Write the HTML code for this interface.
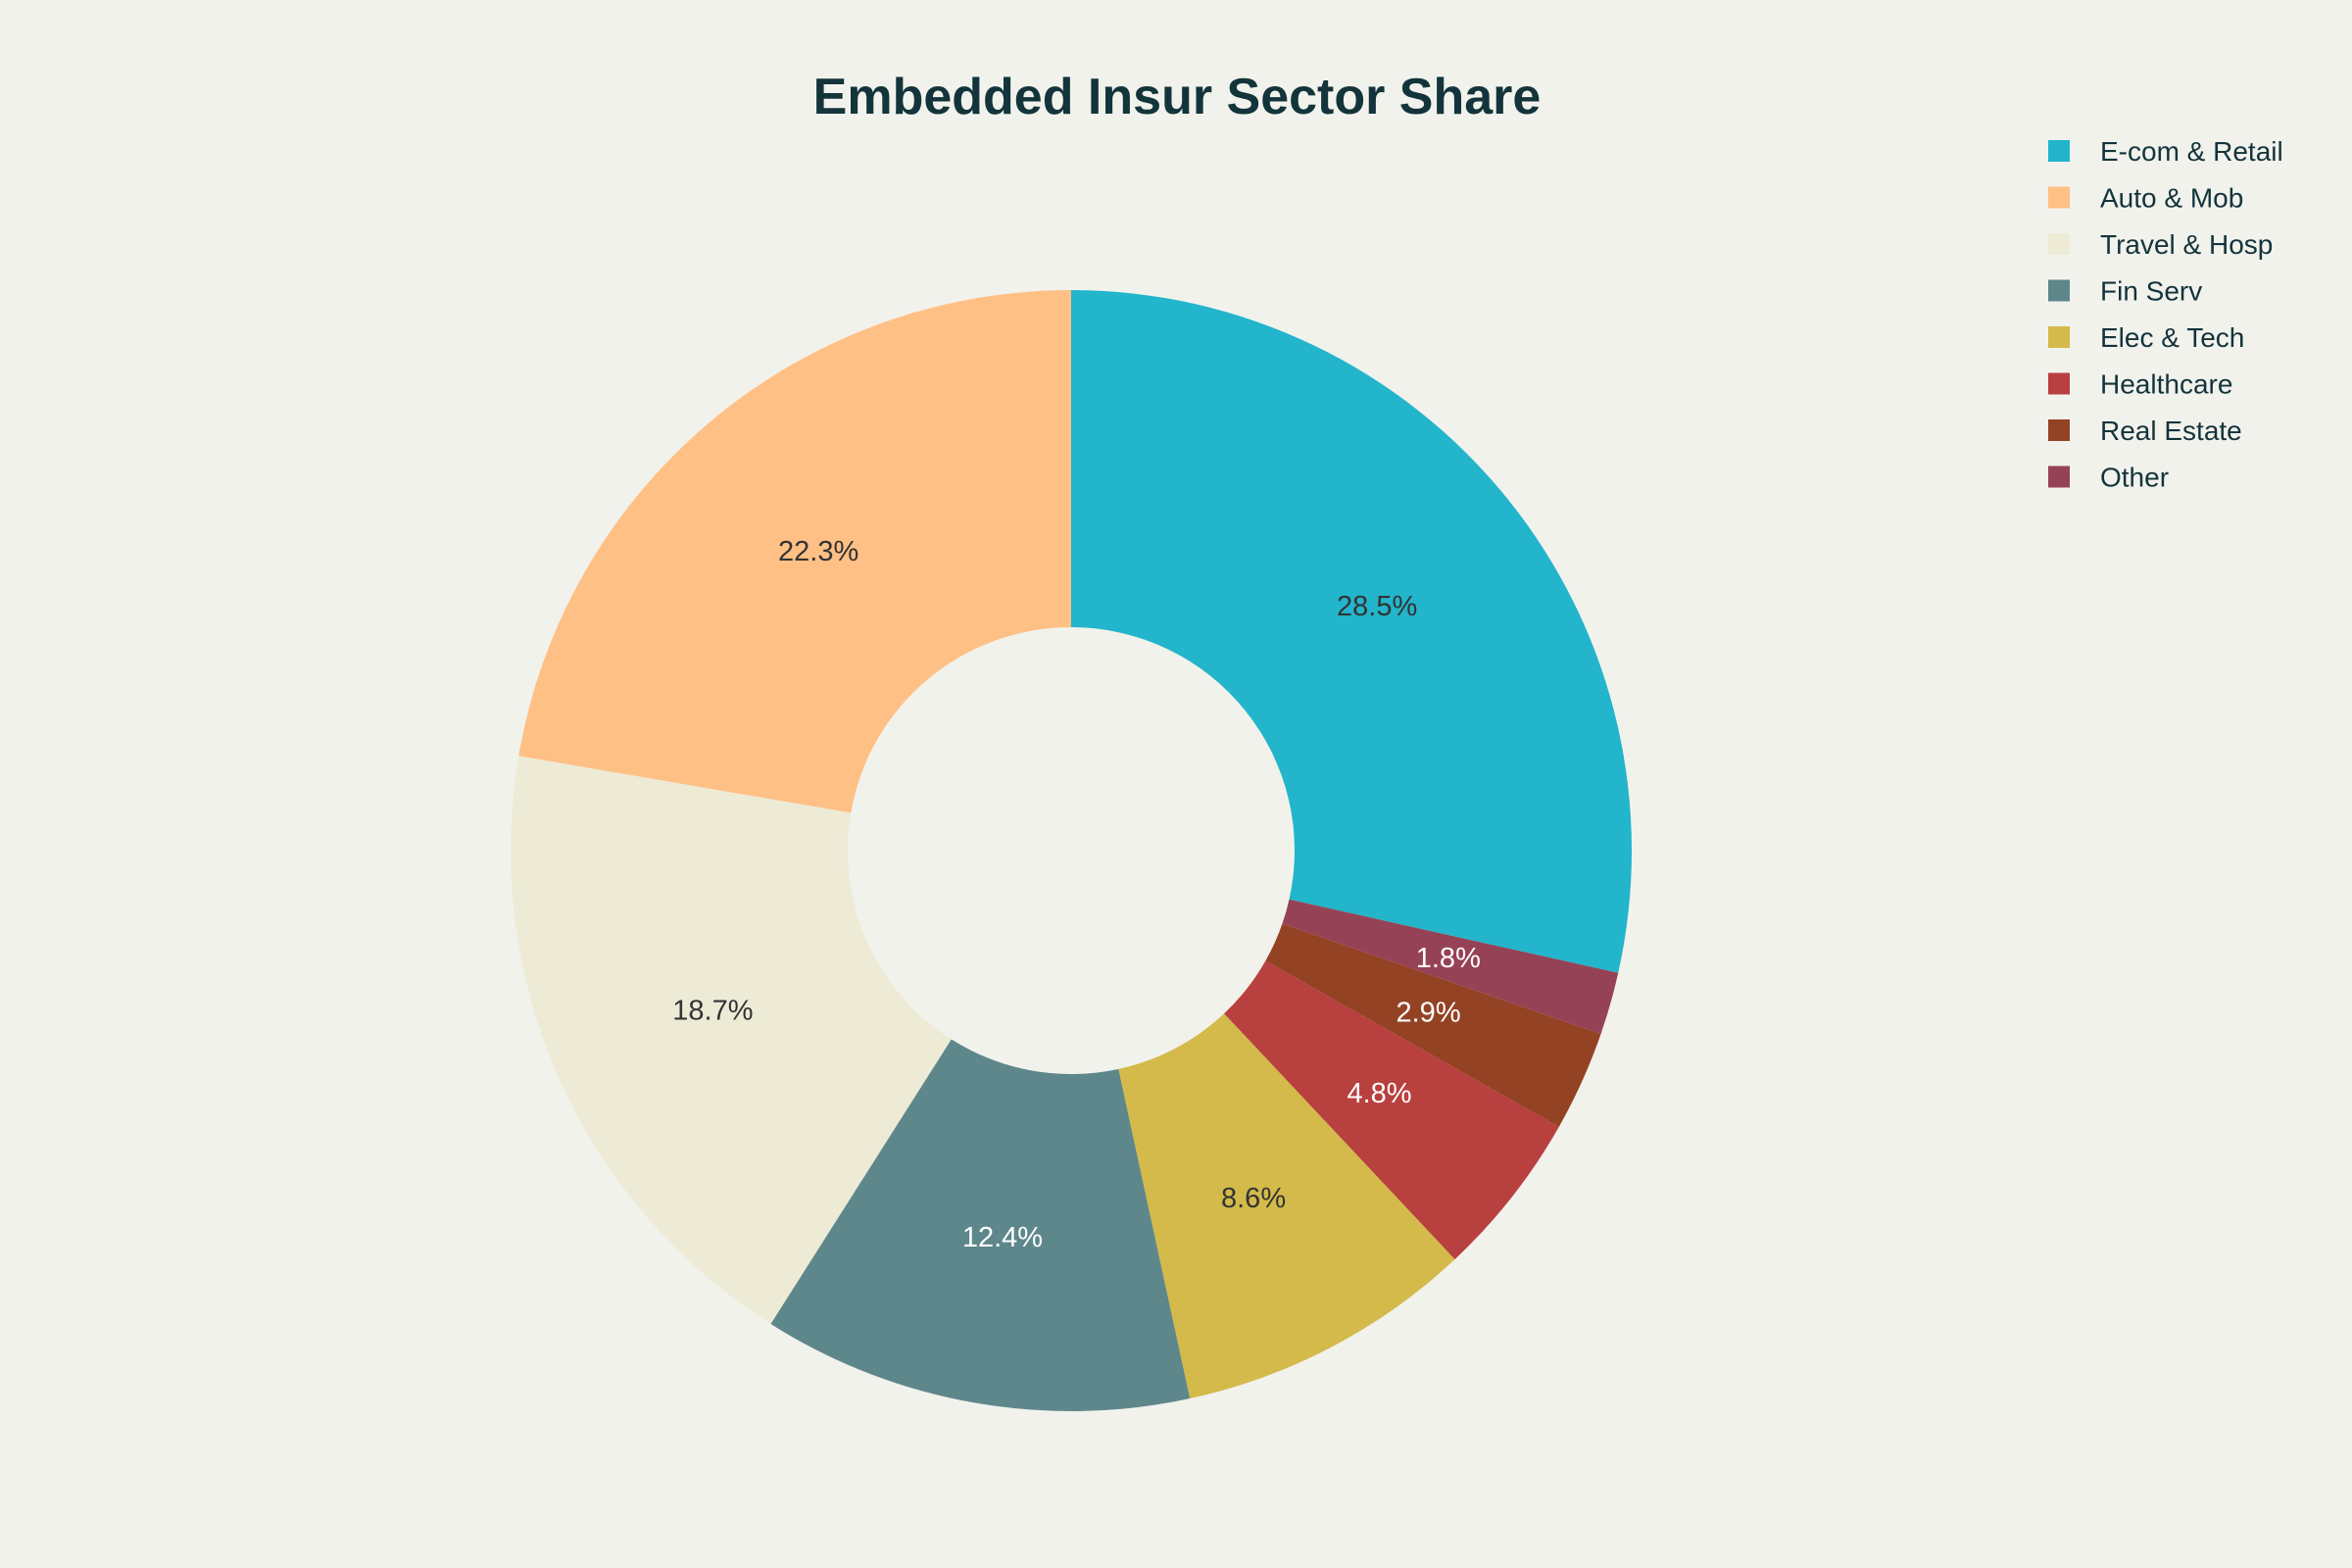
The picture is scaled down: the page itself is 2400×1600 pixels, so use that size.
<!DOCTYPE html>
<html><head><meta charset="utf-8"><style>
html,body{margin:0;padding:0;background:#F2F2EC;}
svg{display:block;font-family:"Liberation Sans",sans-serif;}
</style></head><body>
<svg id="chart" width="2400" height="1600" viewBox="0 0 2400 1600">
<rect width="2400" height="1600" fill="#F2F2EC"/>
<text x="1201" y="116" text-anchor="middle" font-size="52" font-weight="bold" fill="#13343B">Embedded Insur Sector Share</text>
<g id="slices"></g>
<g id="legend"></g>
</svg>
<script>
const categories=["E-com & Retail","Auto & Mob","Travel & Hosp","Fin Serv","Elec & Tech","Healthcare","Real Estate","Other"];
const values=[28.5,22.3,18.7,12.4,8.6,4.8,2.9,1.8];
const colors=["#22B5CC","#FFC086","#EDEBD6","#5E878C","#D3BA4A","#B8403F","#944224","#964256"];
const labelColors=["#333","#333","#333","#fff","#333","#fff","#fff","#fff"];
const NS="http://www.w3.org/2000/svg";
const cx=1093,cy=868,R=572,r=228;
const total=values.reduce((a,b)=>a+b,0);
function pt(rad,ang){return [cx+rad*Math.sin(ang),cy-rad*Math.cos(ang)];}
const g=document.getElementById('slices');
let a=values[0]/total*2*Math.PI;
values.forEach((v,i)=>{
  const a1=a,a0=a-v/total*2*Math.PI;a=a0;
  const large=(a1-a0)>Math.PI?1:0;
  const [x0,y0]=pt(R,a0),[x1,y1]=pt(R,a1),[x2,y2]=pt(r,a1),[x3,y3]=pt(r,a0);
  const p=document.createElementNS(NS,'path');
  p.setAttribute('d',`M${x0},${y0}A${R},${R} 0 ${large} 1 ${x1},${y1}L${x2},${y2}A${r},${r} 0 ${large} 0 ${x3},${y3}Z`);
  p.setAttribute('fill',colors[i]);
  
  
  g.appendChild(p);
  const [lx,ly]=pt((R+r)/2,(a0+a1)/2);
  const t=document.createElementNS(NS,'text');
  t.setAttribute('x',lx);t.setAttribute('y',ly+10);
  t.setAttribute('text-anchor','middle');t.setAttribute('font-size','29');
  t.setAttribute('fill',labelColors[i]);
  t.textContent=v.toFixed(1)+'%';
  
  
  g.appendChild(t);
});
const lg=document.getElementById('legend');
categories.forEach((c,i)=>{
  const y=154+i*47.5;
  const s=document.createElementNS(NS,'rect');
  s.setAttribute('x',2090);s.setAttribute('y',y-11);s.setAttribute('width',22);s.setAttribute('height',22);
  s.setAttribute('fill',colors[i]);
  
  
  lg.appendChild(s);
  const t=document.createElementNS(NS,'text');
  t.setAttribute('x',2143);t.setAttribute('y',y+10);t.setAttribute('font-size','28');t.setAttribute('fill','#13343B');
  t.textContent=c;
  
  
  lg.appendChild(t);
});
</script>
</body></html>
